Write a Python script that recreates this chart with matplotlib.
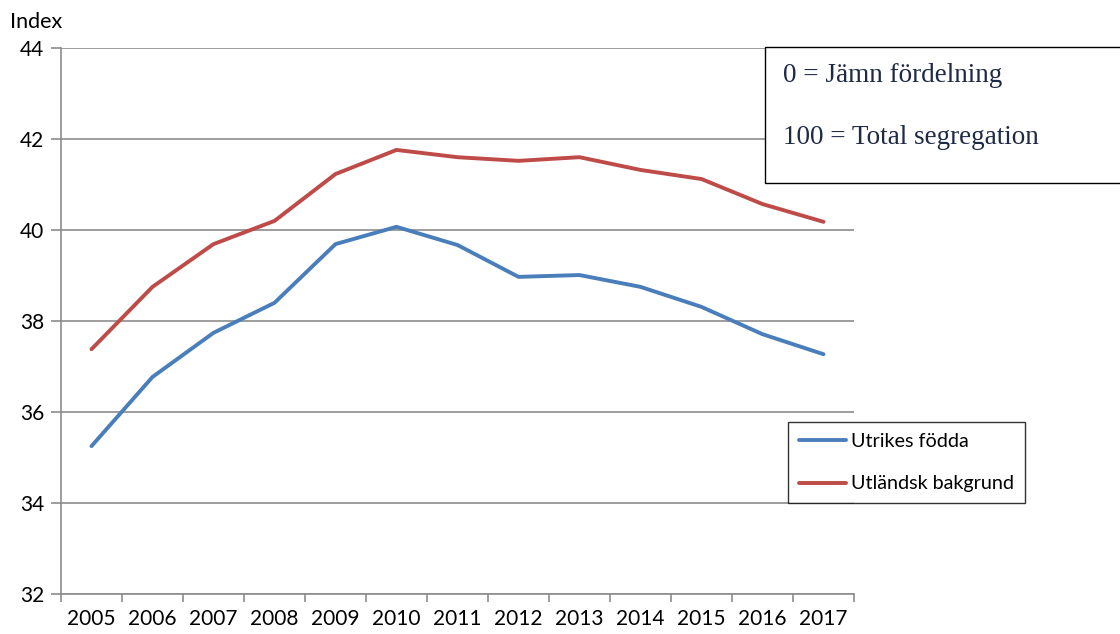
import numpy as np
import matplotlib.pyplot as plt
from matplotlib.patches import Rectangle

# Data
years = ['2005', '2006', '2007', '2008', '2009', '2010', '2011',
         '2012', '2013', '2014', '2015', '2016', '2017']
utrikes_fodda = [35.25, 36.77, 37.74, 38.40, 39.69, 40.07, 39.67,
                 38.97, 39.01, 38.75, 38.31, 37.71, 37.27]
utlandsk_bakgrund = [37.38, 38.75, 39.69, 40.20, 41.23, 41.76, 41.60,
                     41.52, 41.60, 41.32, 41.12, 40.57, 40.18]
y_ticks = [32, 34, 36, 38, 40, 42, 44]

plt.rcParams['font.family'] = ['Lato', 'DejaVu Sans']

fig = plt.figure(figsize=(11.2, 6.34), dpi=100)
# axes in pixels: left 61, right 854, top 48, bottom 594
W, H = 1120, 634
ax = fig.add_axes([61 / W, 1 - 594 / H, (854 - 61) / W, (594 - 48) / H])

x = np.arange(len(years))
ax.plot(x, utrikes_fodda, color='#4A7EBB', lw=2.8, label='Utrikes födda',
        solid_capstyle='round', zorder=3)
ax.plot(x, utlandsk_bakgrund, color='#BE4B48', lw=2.8, label='Utländsk bakgrund',
        solid_capstyle='round', zorder=3)

ax.set_xlim(-0.5, len(years) - 0.5)
ax.set_ylim(32, 44)
ax.set_yticks(y_ticks)
ax.set_yticklabels([str(v) for v in y_ticks], fontsize=15)
ax.yaxis.grid(True, color='#8C8C8C', lw=1.2)
ax.set_axisbelow(True)

# category labels centred, ticks between categories
ax.set_xticks(x)
ax.set_xticklabels(years, fontsize=15)
ax.tick_params(axis='x', length=0, pad=11)
ax.set_xticks(np.arange(-0.5, len(years)), minor=True)
ax.tick_params(axis='x', which='minor', length=6, color='#8C8C8C', width=1.2)
ax.tick_params(axis='y', length=7, color='#8C8C8C', width=1.2, pad=5)

for s in ['top', 'right']:
    ax.spines[s].set_visible(False)
for s in ['left', 'bottom']:
    ax.spines[s].set_color('#8C8C8C')
    ax.spines[s].set_linewidth(1.2)

fig.text(10 / W, 1 - 22 / H, 'Index', fontsize=15.5, va='center', ha='left')

leg = ax.legend(loc='upper left', bbox_to_anchor=((788 - 61) / (854 - 61), 1 - (422 - 48) / 546),
                frameon=True, fancybox=False, fontsize=14.2, handlelength=2.4,
                handletextpad=0.25, labelspacing=1.3, borderpad=0.55, borderaxespad=0)
leg.get_frame().set_edgecolor('black')
leg.get_frame().set_linewidth(1.0)

# text box in the upper right
fig.patches.append(Rectangle((765 / W, 1 - 183 / H), 360 / W, 136 / H,
                             transform=fig.transFigure, facecolor='white',
                             edgecolor='black', lw=1.0, zorder=5))
fig.text(783 / W, 1 - 75 / H, '0 = Jämn fördelning', family='Liberation Serif',
         fontsize=19.5, color='#1F2A44', va='center', zorder=6)
fig.text(783 / W, 1 - 138 / H, '100 = Total segregation', family='Liberation Serif',
         fontsize=19.5, color='#1F2A44', va='center', zorder=6)

fig.savefig('out.png', dpi=100)
